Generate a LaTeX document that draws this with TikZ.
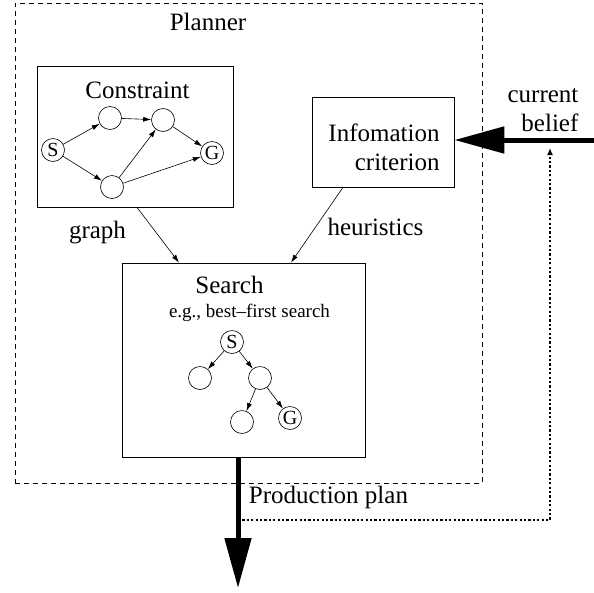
\documentclass[tikz,border=0pt]{standalone}
\usepackage{fontspec}
\setmainfont{Liberation Serif}
\usetikzlibrary{arrows.meta,calc}

\begin{document}
\begin{tikzpicture}[x=1pt, y=-1pt,
	box/.style={draw, line width=0.8pt, inner sep=0pt},
	txt/.style={font=\fontsize{25}{29}\selectfont},
	state/.style={draw, circle, line width=0.6pt, minimum size=23pt, inner sep=0pt, font=\fontsize{20}{20}\selectfont},
	edge/.style={line width=0.6pt, -{Latex[length=8pt, width=5pt]}},
	bigarrow/.style={line width=5pt, -{Triangle[length=50pt, width=26pt]}},
	feedback/.style={line width=2pt, dash pattern=on 2.2pt off 2.2pt, -{Latex[length=7pt, width=6pt]}}]
			%%%%% START %%%%%
			\useasboundingbox (0, 0) rectangle (594, 592);
			
			\node[box, dash pattern=on 5pt off 4pt, line width=0.6pt, minimum width=467pt, minimum height=480pt] (planner) at (248.5, 243) {};
			\node[txt] (plannertxt) at (208, 22) {Planner};
			
			% constraint graph
			\node[box, minimum width=196pt, minimum height=141pt] (cons) at (135, 136.5) {};
			\node[txt] (constxt) at (137.5, 90) {Constraint};
			\node[state] (s1) at (53, 150) {S};
			\node[state] (a1) at (110, 118) {};
			\node[state] (a2) at (163, 120) {};
			\node[state] (g1) at (212, 153) {G};
			\node[state] (b1) at (112, 187) {};
			\draw[edge] (s1) -- (a1);
			\draw[edge] (s1) -- (b1);
			\draw[edge] (a1) -- (a2);
			\draw[edge] (b1) -- (a2);
			\draw[edge] (a2) -- (g1);
			\draw[edge] (b1) -- (g1);
			
			% information criterion
			\node[box, minimum width=142pt, minimum height=90pt] (info) at (383, 142) {};
			\node[txt, align=right] (infotxt) at (384, 147) {Infomation\\criterion};
			
			% search
			\node[box, minimum width=243pt, minimum height=194pt] (search) at (243.5, 360) {};
			\node[txt] (searchtxt) at (229.5, 285) {Search};
			\node[font=\fontsize{19}{19}\selectfont] (eg) at (249.5, 313) {e.g., best--first search};
			\node[state] (s2) at (232, 342) {S};
			\node[state] (l2) at (200, 378) {};
			\node[state] (m2) at (260, 378) {};
			\node[state] (bl2) at (242, 422) {};
			\node[state] (g2) at (290, 418) {G};
			\draw[edge] (s2) -- (l2);
			\draw[edge] (s2) -- (m2);
			\draw[edge] (m2) -- (bl2);
			\draw[edge] (m2) -- (g2);
			
			% inputs of the search
			\draw[edge] ($(cons.south)+(2, 0)$) -- ($(search.north)+(-64.5, 0)$);
			\node[txt] (graphtxt) at (97.5, 233) {graph};
			\draw[edge] ($(info.south)+(-40, 0)$) -- ($(search.north)+(47.5, 0)$);
			\node[txt] (heurtxt) at (375.5, 227) {heuristics};
			
			% current belief
			\coordinate (belief) at (594, 140);
			\draw[bigarrow] (belief) -- (belief -| info.east);
			\node[txt, align=right] (belieftxt) at (543, 110) {current\\belief};
			
			% production plan
			\coordinate (out) at (238, 588);
			\draw[bigarrow] (search.south -| out) -- (out);
			\node[txt] (plantxt) at (328.5, 497) {Production plan};
			
			% feedback
			\coordinate (split) at (238, 520);
			\coordinate (tap) at (550, 148);
			\draw[feedback] (split) -| (tap);
			
			%%%%% END %%%%%
\end{tikzpicture}
\end{document}
